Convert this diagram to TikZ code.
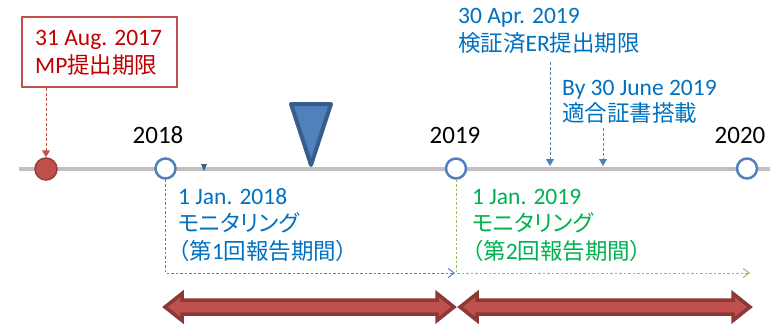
\documentclass[tikz,border=0pt]{standalone}
\usepackage{fontspec}
\setmainfont{Carlito}
\newfontfamily\jpfont[RawFeature=+palt]{Noto Sans CJK JP}
\newcommand\jpx[1]{{\fontsize{22.5}{28}\jpfont #1}}
\definecolor{tlgray}{HTML}{C0C0C0}
\definecolor{cblue}{HTML}{4F81BD}
\definecolor{dblue}{HTML}{385D8A}
\definecolor{tblue}{HTML}{0070C0}
\definecolor{tgreen}{HTML}{00B050}
\definecolor{lgreen}{HTML}{9BBB59}
\definecolor{rfill}{HTML}{C0504D}
\definecolor{rdark}{HTML}{8C3836}
\definecolor{tred}{HTML}{C00000}
\usetikzlibrary{arrows.meta}
\begin{document}
\begin{tikzpicture}[x=1pt,y=-1pt,
  txt/.style={inner sep=0pt,anchor=base west,font=\fontsize{23.5}{28}\selectfont},
  year/.style={inner sep=0pt,anchor=base,font=\fontsize{25}{28}\selectfont,text=black},
  yearpt/.style={circle,draw=cblue,fill=white,line width=2.5pt,minimum size=20pt,inner sep=0pt},
  vdash/.style={dashed,dash pattern=on 3pt off 2pt,line width=1pt},
  bigarrow/.style={fill=rfill,draw=rdark,line width=3.5pt,line join=miter}]
\useasboundingbox (0,0) rectangle (770,325);
% timeline
\coordinate (tlstart) at (19,169);
\coordinate (tlend) at (770,169);
\draw[tlgray,line width=4.5pt] (tlstart) -- (tlend);
% points
\node[circle,fill=rfill,draw=rdark!80!rfill,line width=1.5pt,minimum width=22pt,minimum height=19pt,inner sep=0pt] (reddot) at (46,169) {};
\node[yearpt] (c2018) at (165.5,168.5) {};
\node[yearpt] (c2019) at (456,168.5) {};
\node[yearpt] (c2020) at (747,168.5) {};
% year labels
\node[year] (y2018) at (158,143) {2018};
\node[year] (y2019) at (455,143) {2019};
\node[year] (y2020) at (740,143) {2020};
% small marker
\fill[dblue] (201,164) -- (207,164) -- (204,171) -- cycle;
% big triangle
\draw[fill=cblue,draw=dblue,line width=4pt,line join=round] (291,104) -- (331,104) -- (311,165) -- cycle;
% red box
\node[draw=rfill,line width=2pt,minimum width=155pt,minimum height=70pt,inner sep=0pt] (mpbox) at (99.5,52) {};
\node[txt,text=tred] (mpdate) at (35,45) {31 Aug. 2017};
\node[txt,text=tred] (mptext) at (35,73) {MP\jpx{提出期限}};
\draw[rfill,vdash,-{Triangle[length=7pt,width=8pt]}] (mpbox.south -| reddot) -- (reddot.north);
% ER deadline
\node[txt,text=tblue] (erdate) at (458,23) {30 Apr. 2019};
\node[txt,text=tblue] (ertext) at (458,51) {\jpx{検証済}ER\jpx{提出期限}};
\coordinate (ertop) at (550,62);
\coordinate (erpt) at (550,166);
\draw[cblue,vdash,-{Triangle[length=7pt,width=8pt]}] (ertop) -- (erpt);
% certificate
\node[txt,text=tblue] (cdate) at (562,95) {By 30 June 2019};
\node[txt,text=tblue] (ctext) at (562,121) {\jpx{適合証書搭載}};
\coordinate (ctop) at (603,128);
\coordinate (cpt) at (603,166);
\draw[cblue,vdash,-{Triangle[length=7pt,width=8pt]}] (ctop) -- (cpt);
% monitoring period 1
\node[txt,text=tblue] (m1date) at (178,204) {1 Jan. 2018};
\node[txt,text=tblue] (m1text) at (178,231) {\jpx{モニタリング}};
\node[txt,text=tblue] (m1per) at (178,259) {\jpx{（第}1\jpx{回報告期間）}};
\coordinate (m1end) at (455,273);
\draw[cblue,vdash,dash pattern=on 2.5pt off 2pt,-{Straight Barb[length=6pt,width=9pt,line width=1pt]}] (c2018.south) |- (m1end);
% monitoring period 2
\node[txt,text=tgreen] (m2date) at (472,204) {1 Jan. 2019};
\node[txt,text=tgreen] (m2text) at (472,231) {\jpx{モニタリング}};
\node[txt,text=tgreen] (m2per) at (472,259) {\jpx{（第}2\jpx{回報告期間）}};
\coordinate (m2end) at (750,273);
\draw[lgreen,vdash,dash pattern=on 2.5pt off 2pt,-{Straight Barb[length=6pt,width=9pt,line width=1pt]}] (c2019.south) |- (m2end);
% big double arrows
\draw[bigarrow] (165,307) -- (182,293.5) -- (182,300) -- (437,300) -- (437,293.5) -- (454,307) -- (437,320.5) -- (437,314) -- (182,314) -- (182,320.5) -- cycle;
\draw[bigarrow] (460,307) -- (477,293.5) -- (477,300) -- (733,300) -- (733,293.5) -- (750,307) -- (733,320.5) -- (733,314) -- (477,314) -- (477,320.5) -- cycle;
\end{tikzpicture}
\end{document}
